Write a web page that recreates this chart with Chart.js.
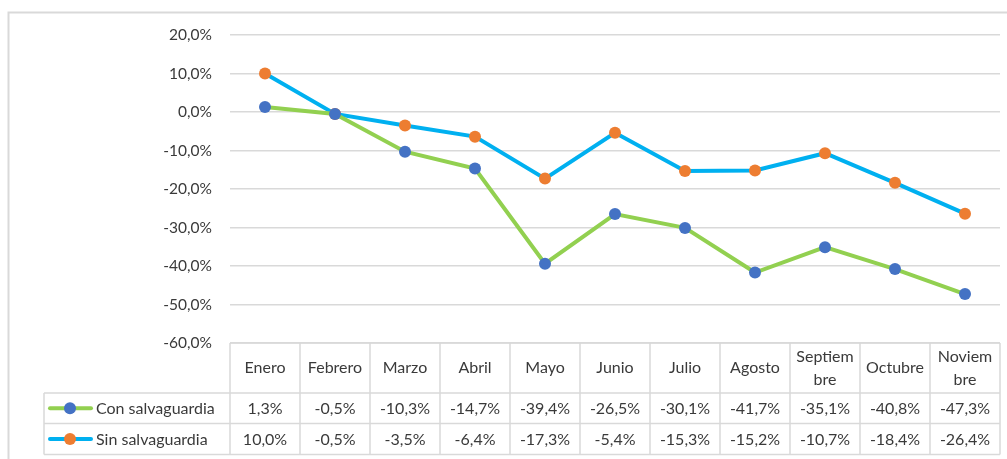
<!DOCTYPE html>
<html>
<head>
<meta charset="utf-8">
<script src="https://cdn.jsdelivr.net/npm/chart.js@4.4.1/dist/chart.umd.min.js"></script>
<style>
  html, body { margin: 0; padding: 0; background: #fff; }
  #wrap { position: relative; width: 1007px; height: 459px; }
</style>
</head>
<body>
<div id="wrap"><canvas id="c" width="1007" height="459"></canvas></div>
<script>
const categories = ['Enero','Febrero','Marzo','Abril','Mayo','Junio','Julio','Agosto',['Septiem','bre'],'Octubre',['Noviem','bre']];
const conSalvaguardia = [1.3, -0.5, -10.3, -14.7, -39.4, -26.5, -30.1, -41.7, -35.1, -40.8, -47.3];
const sinSalvaguardia = [10.0, -0.5, -3.5, -6.4, -17.3, -5.4, -15.3, -15.2, -10.7, -18.4, -26.4];
const seriesNames = ['Con salvaguardia', 'Sin salvaguardia'];
const yTicks = { min: -60, max: 20, step: 10 };

const FONT = 'Lato, "Open Sans", sans-serif';
const FSIZE = 16;
const TEXT = '#3a3a3a';
const GRID = '#d9d9d9';

const fmt = v => v.toFixed(1).replace('.', ',') + '%';

const tablePlugin = {
  id: 'dataTable',
  afterDraw(chart) {
    const ctx = chart.ctx;
    const x = chart.scales.x;
    const ca = chart.chartArea;
    const n = categories.length;
    const cw = (ca.right - ca.left) / n;
    const top = ca.bottom;
    const r1 = top + 50, r2 = r1 + 30.5, r3 = r2 + 31;
    const legL = 44;
    ctx.save();
    // outer frame (left and top only visible)
    ctx.strokeStyle = GRID; ctx.lineWidth = 2;
    ctx.beginPath();
    ctx.moveTo(8.5, 459); ctx.lineTo(8.5, 12.5); ctx.lineTo(1007, 12.5);
    ctx.stroke();
    // table lines
    ctx.lineWidth = 1.5;
    ctx.beginPath();
    ctx.moveTo(ca.left, top); ctx.lineTo(ca.right, top);
    [r1, r2, r3].forEach(y => { ctx.moveTo(legL, y); ctx.lineTo(ca.right, y); });
    ctx.moveTo(legL, r1); ctx.lineTo(legL, r3);
    for (let i = 0; i <= n; i++) {
      const xx = ca.left + i * cw;
      ctx.moveTo(xx, top); ctx.lineTo(xx, r3);
    }
    ctx.stroke();
    // texts
    ctx.fillStyle = TEXT;
    ctx.font = FSIZE + 'px ' + FONT;
    ctx.textAlign = 'center';
    ctx.textBaseline = 'middle';
    categories.forEach((c, i) => {
      const cx = x.getPixelForValue(i);
      if (Array.isArray(c)) {
        ctx.fillText(c[0], cx, (top + r1) / 2 - 11);
        ctx.fillText(c[1], cx, (top + r1) / 2 + 12);
      } else {
        ctx.fillText(c, cx, (top + r1) / 2);
      }
      ctx.fillText(fmt(conSalvaguardia[i]), cx, (r1 + r2) / 2 + 1);
      ctx.fillText(fmt(sinSalvaguardia[i]), cx, (r2 + r3) / 2 + 1);
    });
    // legend keys
    const rows = [(r1 + r2) / 2, (r2 + r3) / 2];
    chart.data.datasets.forEach((ds, k) => {
      const y = rows[k];
      ctx.strokeStyle = ds.borderColor; ctx.lineWidth = 4; ctx.lineCap = 'round';
      ctx.beginPath(); ctx.moveTo(50, y); ctx.lineTo(91, y); ctx.stroke();
      ctx.fillStyle = ds.pointBackgroundColor;
      ctx.beginPath(); ctx.arc(70, y, 6, 0, Math.PI * 2); ctx.fill();
      ctx.fillStyle = TEXT; ctx.textAlign = 'left';
      ctx.fillText(ds.label, 96, y + 1);
    });
    ctx.restore();
  }
};

new Chart(document.getElementById('c'), {
  type: 'line',
  data: {
    labels: categories,
    datasets: [
      { label: seriesNames[0], data: conSalvaguardia, borderColor: '#92D050', borderWidth: 4,
        pointBackgroundColor: '#4472C4', pointBorderColor: '#4472C4', pointRadius: 6, pointBorderWidth: 0, tension: 0 },
      { label: seriesNames[1], data: sinSalvaguardia, borderColor: '#00B0F0', borderWidth: 4,
        pointBackgroundColor: '#ED7D31', pointBorderColor: '#ED7D31', pointRadius: 6, pointBorderWidth: 0, tension: 0 }
    ]
  },
  options: {
    responsive: false,
    animation: false,
    layout: { padding: { top: 35, right: 7, bottom: 116, left: 0 } },
    plugins: { legend: { display: false }, tooltip: { enabled: false } },
    scales: {
      x: { display: false, offset: true },
      y: {
        min: yTicks.min, max: yTicks.max,
        afterFit(s) { s.width = 230; },
        border: { display: false },
        grid: { color: GRID, lineWidth: 1.5, drawTicks: false },
        ticks: { stepSize: yTicks.step, padding: 18, color: TEXT, font: { family: FONT, size: 15.5 },
          callback: v => fmt(v) }
      }
    }
  },
  plugins: [tablePlugin]
});
</script>
</body>
</html>
